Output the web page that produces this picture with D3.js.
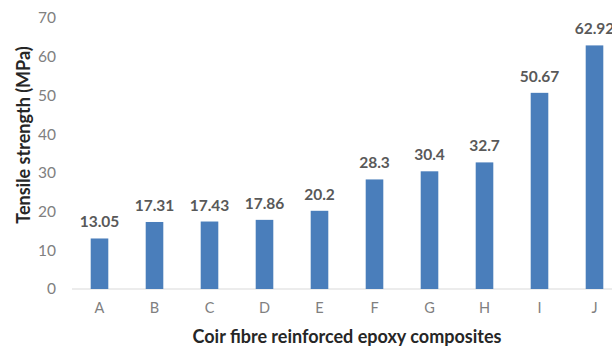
<!DOCTYPE html>
<html><head><meta charset="utf-8">
<script src="https://cdn.jsdelivr.net/npm/d3@7"></script>
<style>body{margin:0;background:#fff}svg{display:block}</style>
</head><body>
<script>
const categories = ["A","B","C","D","E","F","G","H","I","J"];
const values = [13.05,17.31,17.43,17.86,20.2,28.3,30.4,32.7,50.67,62.92];
const labels = ["13.05","17.31","17.43","17.86","20.2","28.3","30.4","32.7","50.67","62.92"];
const yTicks = [0,10,20,30,40,50,60,70];

const W=612,H=347;
const svg=d3.select("body").append("svg").attr("width",W).attr("height",H);
const font="Lato, 'Open Sans', sans-serif";
const x=d3.scaleBand().domain(categories).range([72,622]).paddingInner(0.68).paddingOuter(0.34);
const y=d3.scaleLinear().domain([0,70]).range([289,18]);

svg.append("line").attr("x1",72).attr("x2",W).attr("y1",y(0)).attr("y2",y(0))
  .attr("stroke","#d9d9d9").attr("stroke-width",1);

const yAxis=d3.axisLeft(y).tickValues(yTicks).tickSize(0).tickPadding(0);
const gy=svg.append("g").attr("transform","translate(56,0)").call(yAxis);
gy.select(".domain").remove();
gy.selectAll("text").attr("font-family",font).attr("font-size",15.5).attr("fill","#808080");

const xAxis=d3.axisBottom(x).tickSize(0).tickPadding(0);
const gx=svg.append("g").attr("transform","translate(0,303)").call(xAxis);
gx.select(".domain").remove();
gx.selectAll("text").attr("font-family",font).attr("font-size",14.5).attr("fill","#808080");

const data=categories.map((c,i)=>({c,v:values[i],l:labels[i]}));
svg.selectAll("rect.bar").data(data).join("rect").attr("class","bar")
  .attr("x",d=>x(d.c)).attr("width",x.bandwidth())
  .attr("y",d=>y(d.v)).attr("height",d=>y(0)-y(d.v))
  .attr("fill","#4a7ebb");

svg.selectAll("text.val").data(data).join("text").attr("class","val")
  .attr("x",d=>x(d.c)+x.bandwidth()/2).attr("y",d=>y(d.v)-11)
  .attr("text-anchor","middle").attr("font-family",font).attr("font-weight","bold")
  .attr("font-size",15.5).attr("fill","#595959").text(d=>d.l);

svg.append("text").attr("transform","translate(30,135) rotate(-90)")
  .attr("text-anchor","middle").attr("font-family",font).attr("font-weight","bold")
  .attr("font-size",18).attr("fill","#262626").text("Tensile strength (MPa)");

svg.append("text").attr("x",347).attr("y",343).attr("text-anchor","middle")
  .attr("font-family",font).attr("font-weight","bold").attr("font-size",18)
  .attr("fill","#262626").text("Coir fibre reinforced epoxy composites");
</script>
</body></html>
